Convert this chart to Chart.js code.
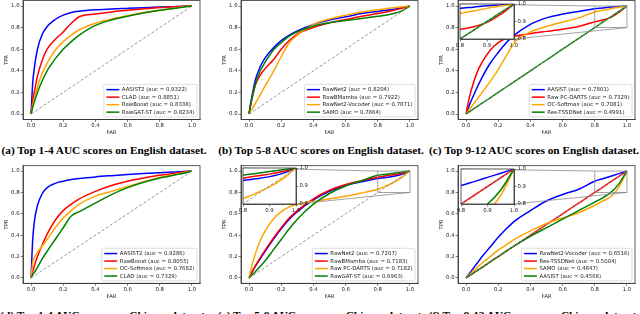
<!DOCTYPE html>
<html>
<head>
<meta charset="utf-8">
<script src="https://cdn.jsdelivr.net/npm/chart.js@4.4.1/dist/chart.umd.min.js"></script>
<style>
  html, body { margin: 0; padding: 0; background: #fff; }
  #fig { position: relative; width: 640px; height: 314px; overflow: hidden; background: #fff; }
  #fig canvas { position: absolute; left: 0; top: 0; }
  .cap { position: absolute; width: 250px; text-align: center; white-space: nowrap;
         font: bold 11.3px "Liberation Serif", serif; line-height: 13px; color: #000; }
</style>
</head>
<body>
<div id="fig">
  <div class="cap" style="left:-21px;top:143.5px">(a) Top 1-4 AUC scores on English dataset.</div>
  <div class="cap" style="left:196px;top:143.5px">(b) Top 5-8 AUC scores on English dataset.</div>
  <div class="cap" style="left:409px;top:143.5px">(c) Top 9-12 AUC scores on English dataset.</div>
  <div class="cap" style="left:-21px;top:308.5px">(d) Top 1-4 AUC scores on Chinese dataset.</div>
  <div class="cap" style="left:196px;top:308.5px">(e) Top 5-8 AUC scores on Chinese dataset.</div>
  <div class="cap" style="left:409px;top:308.5px">(f) Top 9-12 AUC scores on Chinese dataset.</div>
</div>
<script>
// false alarm rate grid shared by every curve
const FAR = [0, 0.01, 0.02, 0.04, 0.07, 0.1, 0.15, 0.2, 0.25, 0.3, 0.4, 0.5, 0.6, 0.7, 0.8, 0.85, 0.9, 0.95, 1];
const chance = [0, 1];
const axisTicks = [0, 0.2, 0.4, 0.6, 0.8, 1.0];
const insetTicks = [0.8, 0.9, 1.0];
const colors = ['blue', 'red', 'orange', 'green'];

// (a) English, top 1-4
const namesA = ['AASIST2 (auc = 0.9322)', 'CLAD (auc = 0.8851)', 'RawBoost (auc = 0.8338)', 'RawGAT-ST (auc = 0.8234)'];
const tprA1 = [0, .28, .42, .6, .74, .81, .875, .915, .94, .952, .965, .972, .978, .984, .99, .992, .995, .998, 1];
const tprA2 = [0, .12, .2, .35, .5, .6, .69, .76, .84, .9, .925, .945, .96, .975, .985, .99, .993, .997, 1];
const tprA3 = [0, .08, .14, .25, .38, .47, .59, .67, .73, .78, .84, .88, .91, .94, .96, .972, .982, .992, 1];
const tprA4 = [0, .06, .11, .2, .31, .4, .51, .6, .67, .73, .82, .87, .905, .935, .96, .97, .98, .99, 1];

// (b) English, top 5-8
const namesB = ['RawNet2 (auc = 0.8204)', 'RawBMamba (auc = 0.7922)', 'RawNet2-Vocoder (auc = 0.7871)', 'SAMO (auc = 0.7864)'];
const tprB1 = [0, .1, .18, .32, .44, .52, .61, .68, .73, .77, .83, .87, .9, .93, .95, .96, .97, .985, 1];
const tprB2 = [0, .08, .15, .27, .36, .42, .5, .6, .68, .74, .8, .845, .875, .905, .93, .945, .96, .98, 1];
const tprB3 = [0, .03, .05, .1, .18, .26, .39, .53, .66, .73, .83, .88, .915, .945, .965, .975, .985, .993, 1];
const tprB4 = [0, .09, .16, .28, .4, .48, .59, .66, .72, .76, .815, .845, .865, .885, .905, .915, .93, .955, 1];

// (c) English, top 9-12
const namesC = ['AASIST (auc = 0.7801)', 'Raw PC-DARTS (auc = 0.7329)', 'OC-Softmax (auc = 0.7081)', 'Res-TSSDNet (auc = 0.4991)'];
const tprC1 = [0, .04, .08, .15, .25, .34, .47, .57, .66, .73, .83, .89, .925, .95, .975, .982, .99, .995, 1];
const tprC2 = [0, .08, .15, .26, .39, .48, .59, .66, .7, .72, .745, .765, .785, .81, .855, .87, .895, .94, 1];
const tprC3 = [0, .02, .04, .08, .14, .2, .3, .41, .54, .66, .76, .81, .85, .89, .945, .96, .975, .988, 1];
const tprC4 = [0, .01, .02, .04, .07, .1, .15, .2, .25, .3, .4, .5, .6, .7, .8, .85, .9, .95, 1];

// (d) Chinese, top 1-4
const namesD = ['AASIST2 (auc = 0.9286)', 'RawBoost (auc = 0.8055)', 'OC-Softmax (auc = 0.7682)', 'CLAD (auc = 0.7329)'];
const tprD1 = [0, .35, .52, .68, .79, .845, .885, .905, .92, .93, .945, .957, .968, .977, .985, .988, .992, .996, 1];
const tprD2 = [0, .06, .11, .2, .31, .41, .54, .63, .69, .74, .81, .865, .905, .935, .96, .97, .98, .99, 1];
const tprD3 = [0, .14, .19, .24, .3, .36, .47, .56, .63, .69, .765, .81, .855, .9, .94, .955, .97, .985, 1];
const tprD4 = [0, .03, .05, .1, .18, .25, .36, .47, .58, .62, .7, .78, .845, .895, .935, .95, .965, .98, 1];

// (e) Chinese, top 5-8
const namesE = ['RawNet2 (auc = 0.7207)', 'RawBMamba (auc = 0.7183)', 'Raw PC-DARTS (auc = 0.7182)', 'RawGAT-ST (auc = 0.6963)'];
const tprE1 = [0, .03, .06, .11, .18, .25, .36, .46, .55, .62, .73, .81, .865, .9, .93, .94, .952, .97, 1];
const tprE2 = [0, .03, .06, .115, .19, .26, .37, .47, .56, .63, .74, .82, .875, .91, .943, .955, .966, .98, 1];
const tprE3 = [0, .07, .13, .23, .35, .44, .55, .62, .665, .69, .715, .74, .765, .795, .83, .86, .895, .94, 1];
const tprE4 = [0, .015, .03, .06, .11, .16, .26, .36, .46, .55, .69, .79, .86, .91, .96, .97, .98, .99, 1];

// (f) Chinese, top 9-12
const namesF = ['RawNet2-Vocoder (auc = 0.6516)', 'Res-TSSDNet (auc = 0.5004)', 'SAMO (auc = 0.4847)', 'AASIST (auc = 0.4568)'];
const tprF1 = [0, .02, .04, .08, .14, .2, .29, .38, .46, .53, .63, .72, .78, .83, .905, .928, .952, .976, 1];
const tprF2 = [0, .01, .02, .04, .07, .1, .15, .2, .25, .3, .4, .5, .6, .7, .8, .85, .9, .95, 1];
const tprF3 = [0, .015, .03, .06, .1, .14, .2, .26, .31, .36, .44, .51, .56, .61, .68, .72, .76, .85, 1];
const tprF4 = [0, .01, .02, .04, .07, .1, .15, .2, .25, .3, .39, .47, .55, .63, .71, .75, .8, .88, 1];

const W = 640, H = 314;
const FONT = 'DejaVu Sans';
const fig = document.getElementById('fig');

function makeDatasets(names, tprs) {
  const ds = tprs.map((t, i) => ({
    label: names[i],
    data: FAR.map((x, k) => ({x: x, y: t[k]})),
    borderColor: colors[i],
    borderWidth: 1.5,
    pointRadius: 0,
    cubicInterpolationMode: 'monotone',
    order: 10 - i
  }));
  ds.push({
    label: '',
    data: chance.map(v => ({x: v, y: v})),
    borderColor: '#8a8a8a',
    borderWidth: 0.9,
    borderDash: [3, 2],
    pointRadius: 0,
    order: 0
  });
  return ds;
}

function fixSize(prop, size) {
  return s => {
    s[prop] = size;
    s.paddingTop = 0; s.paddingBottom = 0; s.paddingLeft = 0; s.paddingRight = 0;
  };
}

function scaleOpts(opts) {
  return {
    type: 'linear',
    position: opts.position,
    min: opts.min,
    max: opts.max,
    afterBuildTicks: s => { s.ticks = opts.ticks.map(v => ({value: v})); },
    afterFit: fixSize(opts.fitProp, opts.fitSize),
    ticks: {
      callback: v => v.toFixed(1),
      font: {family: FONT, size: opts.fontSize},
      color: '#222',
      padding: 1,
      maxRotation: 0,
      autoSkip: false
    },
    grid: {drawOnChartArea: false, drawTicks: true, tickLength: 2.5, color: '#333', lineWidth: 0.6},
    border: {display: true, color: '#333', width: 0.8},
    title: opts.title ? {display: true, text: opts.title, color: '#222',
      font: {family: FONT, size: opts.fontSize}, padding: opts.titlePad} : {display: false}
  };
}

// frame on all four sides, like matplotlib spines
const frame = {
  id: 'frame',
  afterDraw(chart) {
    const a = chart.chartArea, ctx = chart.ctx;
    ctx.save();
    ctx.strokeStyle = '#333';
    ctx.lineWidth = 0.8;
    ctx.strokeRect(a.left, a.top, a.right - a.left, a.bottom - a.top);
    ctx.restore();
  }
};

// legend box in the lower right corner of the axes
const cornerLegend = {
  id: 'cornerLegend',
  afterDatasetsDraw(chart, args, opts) {
    if (!opts.show) return;
    const items = chart.data.datasets.filter(d => d.label);
    const ctx = chart.ctx, a = chart.chartArea;
    ctx.save();
    ctx.font = opts.size + 'px "' + FONT + '"';
    const textW = Math.max(...items.map(d => ctx.measureText(d.label).width));
    const rowH = opts.rowH, lineLen = 13;
    const w = 2.5 + lineLen + 2.5 + textW + 2.5;
    const h = items.length * rowH + 2.5;
    const x = a.right - 3 - w, y = a.bottom - 2.5 - h;
    ctx.beginPath();
    ctx.roundRect(x, y, w, h, 1.5);
    ctx.fillStyle = 'rgba(255,255,255,0.85)';
    ctx.fill();
    ctx.strokeStyle = '#d0d0d0';
    ctx.lineWidth = 0.7;
    ctx.stroke();
    ctx.textBaseline = 'middle';
    items.forEach((d, i) => {
      const cy = y + 1.5 + rowH * (i + 0.5);
      ctx.strokeStyle = d.borderColor;
      ctx.lineWidth = 1.5;
      ctx.beginPath();
      ctx.moveTo(x + 2.5, cy);
      ctx.lineTo(x + 2.5 + lineLen, cy);
      ctx.stroke();
      ctx.fillStyle = '#222';
      ctx.fillText(d.label, x + 2.5 + lineLen + 2.5, cy + 0.3);
    });
    ctx.restore();
  }
};

// zoom rectangle on the main axes, connector lines and white inset background
const insetMark = {
  id: 'insetMark',
  beforeDraw(chart, args, opts) {
    if (!opts.main) return;
    const mx = opts.main.scales.x, my = opts.main.scales.y;
    const a = chart.chartArea, ctx = chart.ctx;
    const x0 = mx.getPixelForValue(insetTicks[0]), x1 = mx.getPixelForValue(insetTicks[2]);
    const y0 = my.getPixelForValue(insetTicks[2]), y1 = my.getPixelForValue(insetTicks[0]);
    ctx.save();
    ctx.strokeStyle = '#8c8c8c';
    ctx.lineWidth = 0.8;
    ctx.strokeRect(x0, y0, x1 - x0, y1 - y0);
    ctx.beginPath();
    ctx.moveTo(a.left, a.top); ctx.lineTo(x0, y0);
    ctx.moveTo(a.right, a.bottom); ctx.lineTo(x1, y1);
    ctx.stroke();
    ctx.fillStyle = '#fff';
    ctx.fillRect(a.left, a.top, a.right - a.left, a.bottom - a.top);
    ctx.restore();
  }
};

function newCanvas() {
  const c = document.createElement('canvas');
  c.width = W; c.height = H;
  c.style.width = W + 'px'; c.style.height = H + 'px';
  fig.appendChild(c);
  return c;
}

function drawMain(p) {
  const yW = 23, xH = 16;
  return new Chart(newCanvas(), {
    type: 'line',
    data: {datasets: makeDatasets(p.names, p.tprs)},
    options: {
      responsive: false,
      animation: false,
      events: [],
      layout: {padding: {left: p.box[0] - yW, top: p.box[1], right: W - p.box[2], bottom: H - p.box[3] - xH}},
      scales: {
        x: scaleOpts({position: 'bottom', min: -0.05, max: 1.05, ticks: axisTicks, fitProp: 'height', fitSize: xH,
          fontSize: 5.3, title: 'FAR', titlePad: 0}),
        y: scaleOpts({position: 'left', min: -0.05, max: 1.05, ticks: axisTicks, fitProp: 'width', fitSize: yW,
          fontSize: 5.3, title: 'TPR', titlePad: {top: 3, bottom: 0}})
      },
      plugins: {
        legend: {display: false},
        tooltip: {enabled: false},
        cornerLegend: {show: true, size: 5.4, rowH: 7.5},
        insetMark: {main: null}
      }
    },
    plugins: [frame, cornerLegend, insetMark]
  });
}

function drawInset(p, main) {
  const yW = 14, xH = 8;
  const b = p.inset;
  return new Chart(newCanvas(), {
    type: 'line',
    data: {datasets: makeDatasets(p.names, p.tprs)},
    options: {
      responsive: false,
      animation: false,
      events: [],
      layout: {padding: {left: b[0], top: b[1], right: W - b[2] - yW, bottom: H - b[3] - xH}},
      scales: {
        x: scaleOpts({position: 'bottom', min: 0.8, max: 1.0, ticks: insetTicks, fitProp: 'height', fitSize: xH,
          fontSize: 5.3}),
        y: scaleOpts({position: 'right', min: 0.8, max: 1.0, ticks: insetTicks, fitProp: 'width', fitSize: yW,
          fontSize: 5.3})
      },
      plugins: {
        legend: {display: false},
        tooltip: {enabled: false},
        cornerLegend: {show: false},
        insetMark: {main: main}
      }
    },
    plugins: [insetMark, frame, cornerLegend]
  });
}

const panels = [
  {names: namesA, tprs: [tprA1, tprA2, tprA3, tprA4], box: [23, 0.6, 200, 119.4]},
  {names: namesB, tprs: [tprB1, tprB2, tprB3, tprB4], box: [241, 0.6, 418, 119.4]},
  {names: namesC, tprs: [tprC1, tprC2, tprC3, tprC4], box: [458, 0.6, 635, 119.4], inset: [460, 4, 514, 39]},
  {names: namesD, tprs: [tprD1, tprD2, tprD3, tprD4], box: [23, 165.7, 200, 283.3]},
  {names: namesE, tprs: [tprE1, tprE2, tprE3, tprE4], box: [241, 165.7, 418, 283.3], inset: [243, 168, 296, 204]},
  {names: namesF, tprs: [tprF1, tprF2, tprF3, tprF4], box: [458, 165.7, 635, 283.3], inset: [461, 169, 514, 204]}
];

panels.forEach(p => {
  const main = drawMain(p);
  if (p.inset) drawInset(p, main);
});
</script>
</body>
</html>
